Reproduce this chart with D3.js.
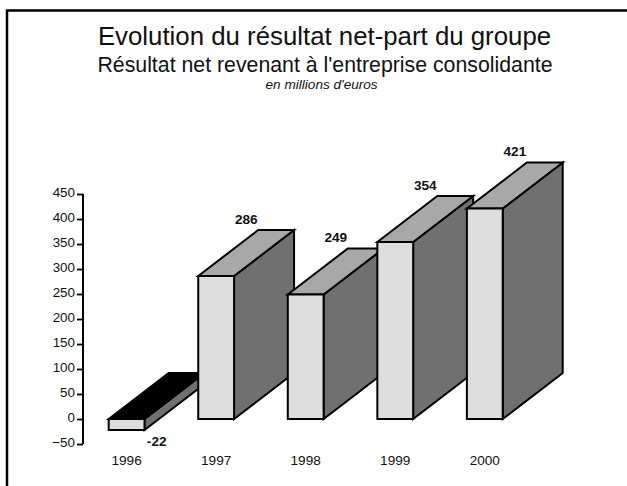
<!DOCTYPE html>
<html><head><meta charset="utf-8">
<script src="https://cdn.jsdelivr.net/npm/d3@7"></script>
<style>html,body{margin:0;padding:0;background:#fff}svg{display:block}text{font-family:"Liberation Sans",Arial,sans-serif;fill:#111}</style>
</head><body><div id="chart"></div>
<script>
const years = ["1996","1997","1998","1999","2000"];
const values = [-22,286,249,354,421];
const tickValues = [-50,0,50,100,150,200,250,300,350,400,450];
const titleText = "Evolution du résultat net-part du groupe";
const subtitleText = "Résultat net revenant à l'entreprise consolidante";
const unitText = "en millions d'euros";

const W=627,H=486,depthX=60,depthY=46;
const svg=d3.select("#chart").append("svg").attr("width",W).attr("height",H);
svg.append("path").attr("d",`M7,${H}V10.5H${W}`).attr("fill","none").attr("stroke","#000").attr("stroke-width",2.5);

svg.append("text").attr("x",324.5).attr("y",45).attr("text-anchor","middle").attr("font-size",25.8).text(titleText);
svg.append("text").attr("x",325).attr("y",72).attr("text-anchor","middle").attr("font-size",21.3).text(subtitleText);
svg.append("text").attr("x",321.6).attr("y",89).attr("text-anchor","middle").attr("font-size",13.6).attr("font-style","italic").text(unitText);

const y=d3.scaleLinear().domain([-50,450]).range([444,194]);
const x=d3.scaleBand().domain(years).range([108.7,502.7]).paddingInner(0.6).paddingOuter(0);

const axis=d3.axisLeft(y).tickValues(tickValues).tickSize(6).tickPadding(2).tickFormat(d3.format("d"));
const ag=svg.append("g").attr("transform","translate(83,0)").call(axis);
ag.select(".domain").attr("stroke","#000").attr("stroke-width",2).attr("d",`M0,${y(450)}V${y(-50)}`);
ag.selectAll(".tick line").attr("stroke","#000").attr("stroke-width",1.8);
ag.selectAll(".tick text").attr("font-size",13.4).attr("font-family",'"Liberation Sans"').attr("dy","0.18em");

const bars=svg.append("g").selectAll("g").data(years.map((k,i)=>({k,v:values[i]}))).join("g");
const pts=a=>a.map(p=>p.join(",")).join(" ");
bars.each(function(d){
  const g=d3.select(this), x0=x(d.k), x1=x0+x.bandwidth();
  const yt=y(Math.max(d.v,0)), yb=y(Math.min(d.v,0));
  const common=s=>s.attr("stroke","#000").attr("stroke-width",2).attr("stroke-linejoin","miter");
  common(g.append("polygon").attr("points",pts([[x1,yt],[x1+depthX,yt-depthY],[x1+depthX,yb-depthY],[x1,yb]])).attr("fill","#707070"));
  common(g.append("polygon").attr("points",pts([[x0,yt],[x0+depthX,yt-depthY],[x1+depthX,yt-depthY],[x1,yt]])).attr("fill",d.v<0?"#000":"#a8a8a8"));
  common(g.append("rect").attr("x",x0).attr("y",yt).attr("width",x1-x0).attr("height",yb-yt).attr("fill","#dedede"));
});
bars.append("text").attr("text-anchor","middle").attr("font-size",13.6).attr("font-weight","bold")
  .attr("x",d=>x(d.k)+48)
  .attr("y",d=>d.v<0?446:y(d.v)-52.5).text(d=>d.v);
svg.append("g").selectAll("text").data(years).join("text").attr("text-anchor","middle").attr("font-size",13.6)
  .attr("x",d=>x(d)+x.bandwidth()/2).attr("y",465).text(d=>d);
</script></body></html>
